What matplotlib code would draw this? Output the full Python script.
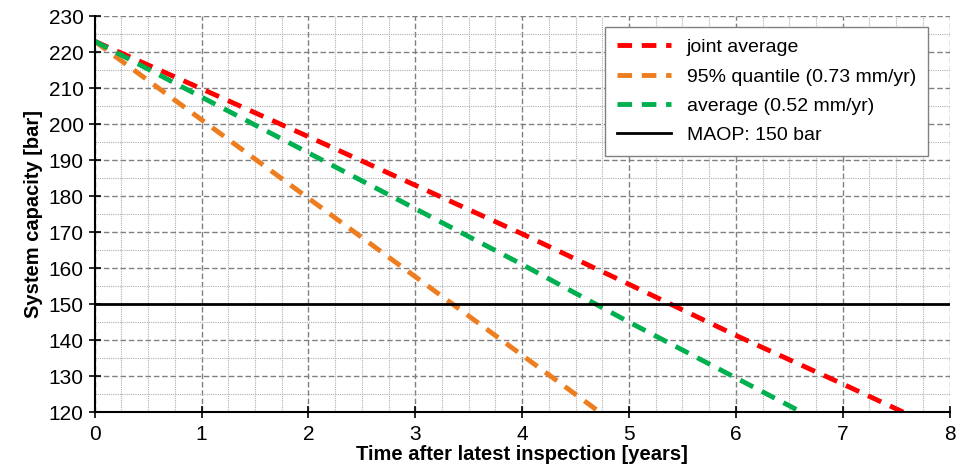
import numpy as np
import matplotlib.pyplot as plt
from matplotlib.ticker import MultipleLocator

plt.rcParams['font.family'] = ['Liberation Sans', 'DejaVu Sans']

years = [0, 1, 2, 3, 4, 5, 6, 7, 8]
joint_avg = [223, 209.8, 196.5, 183.0, 169.5, 155.5, 141.3, 127.8, 114.0]
q95 = [223, 201.2, 179.4, 157.6, 135.8, 114.0, 92.2, 70.4, 48.6]
avg = [223, 207.5, 192.0, 176.5, 161.0, 145.0, 129.5, 114.0, 98.5]
maop = 150

fig = plt.figure(figsize=(9.66, 4.72), dpi=100)
ax = fig.add_axes([0.098, 0.127, 0.885, 0.839])

ax.plot(years, joint_avg, color='#ff0000', lw=3.5, ls=(0, (3, 2)), label='joint average')
ax.plot(years, q95, color='#ed7d1f', lw=3.5, ls=(0, (3, 2)), label='95% quantile (0.73 mm/yr)')
ax.plot(years, avg, color='#00b050', lw=3.5, ls=(0, (3, 2)), label='average (0.52 mm/yr)')
ax.axhline(maop, color='black', lw=2, label='MAOP: 150 bar')

ax.set_xlim(0, 8)
ax.set_ylim(120, 230)
ax.xaxis.set_major_locator(MultipleLocator(1))
ax.xaxis.set_minor_locator(MultipleLocator(0.25))
ax.yaxis.set_major_locator(MultipleLocator(10))
ax.yaxis.set_minor_locator(MultipleLocator(5))
ax.grid(which='major', color='#808080', ls=(0, (4, 2)), lw=1)
ax.grid(which='minor', color='#b0b0b0', ls=(0, (1, 1)), lw=0.8)
ax.set_axisbelow(True)

for s in ['top', 'right']:
    ax.spines[s].set_visible(False)
ax.spines['left'].set_linewidth(1.5)
ax.spines['bottom'].set_linewidth(1.5)
ax.tick_params(which='major', direction='inout', length=8, width=1.2, labelsize=15)
ax.tick_params(which='minor', length=0)
ax.tick_params(axis='x', pad=5)
ax.tick_params(axis='y', pad=4)

ax.set_xlabel('Time after latest inspection [years]', fontsize=14.5, fontweight='bold', labelpad=1)
ax.set_ylabel('System capacity [bar]', fontsize=14.5, fontweight='bold', labelpad=4)

leg = ax.legend(loc='upper right', bbox_to_anchor=(0.986, 0.997), fontsize=14,
                fancybox=False, edgecolor='#808080', framealpha=1,
                handlelength=2.8, labelspacing=0.6, borderpad=0.6)
leg.get_frame().set_linewidth(1)

fig.savefig('out.png', dpi=100)
